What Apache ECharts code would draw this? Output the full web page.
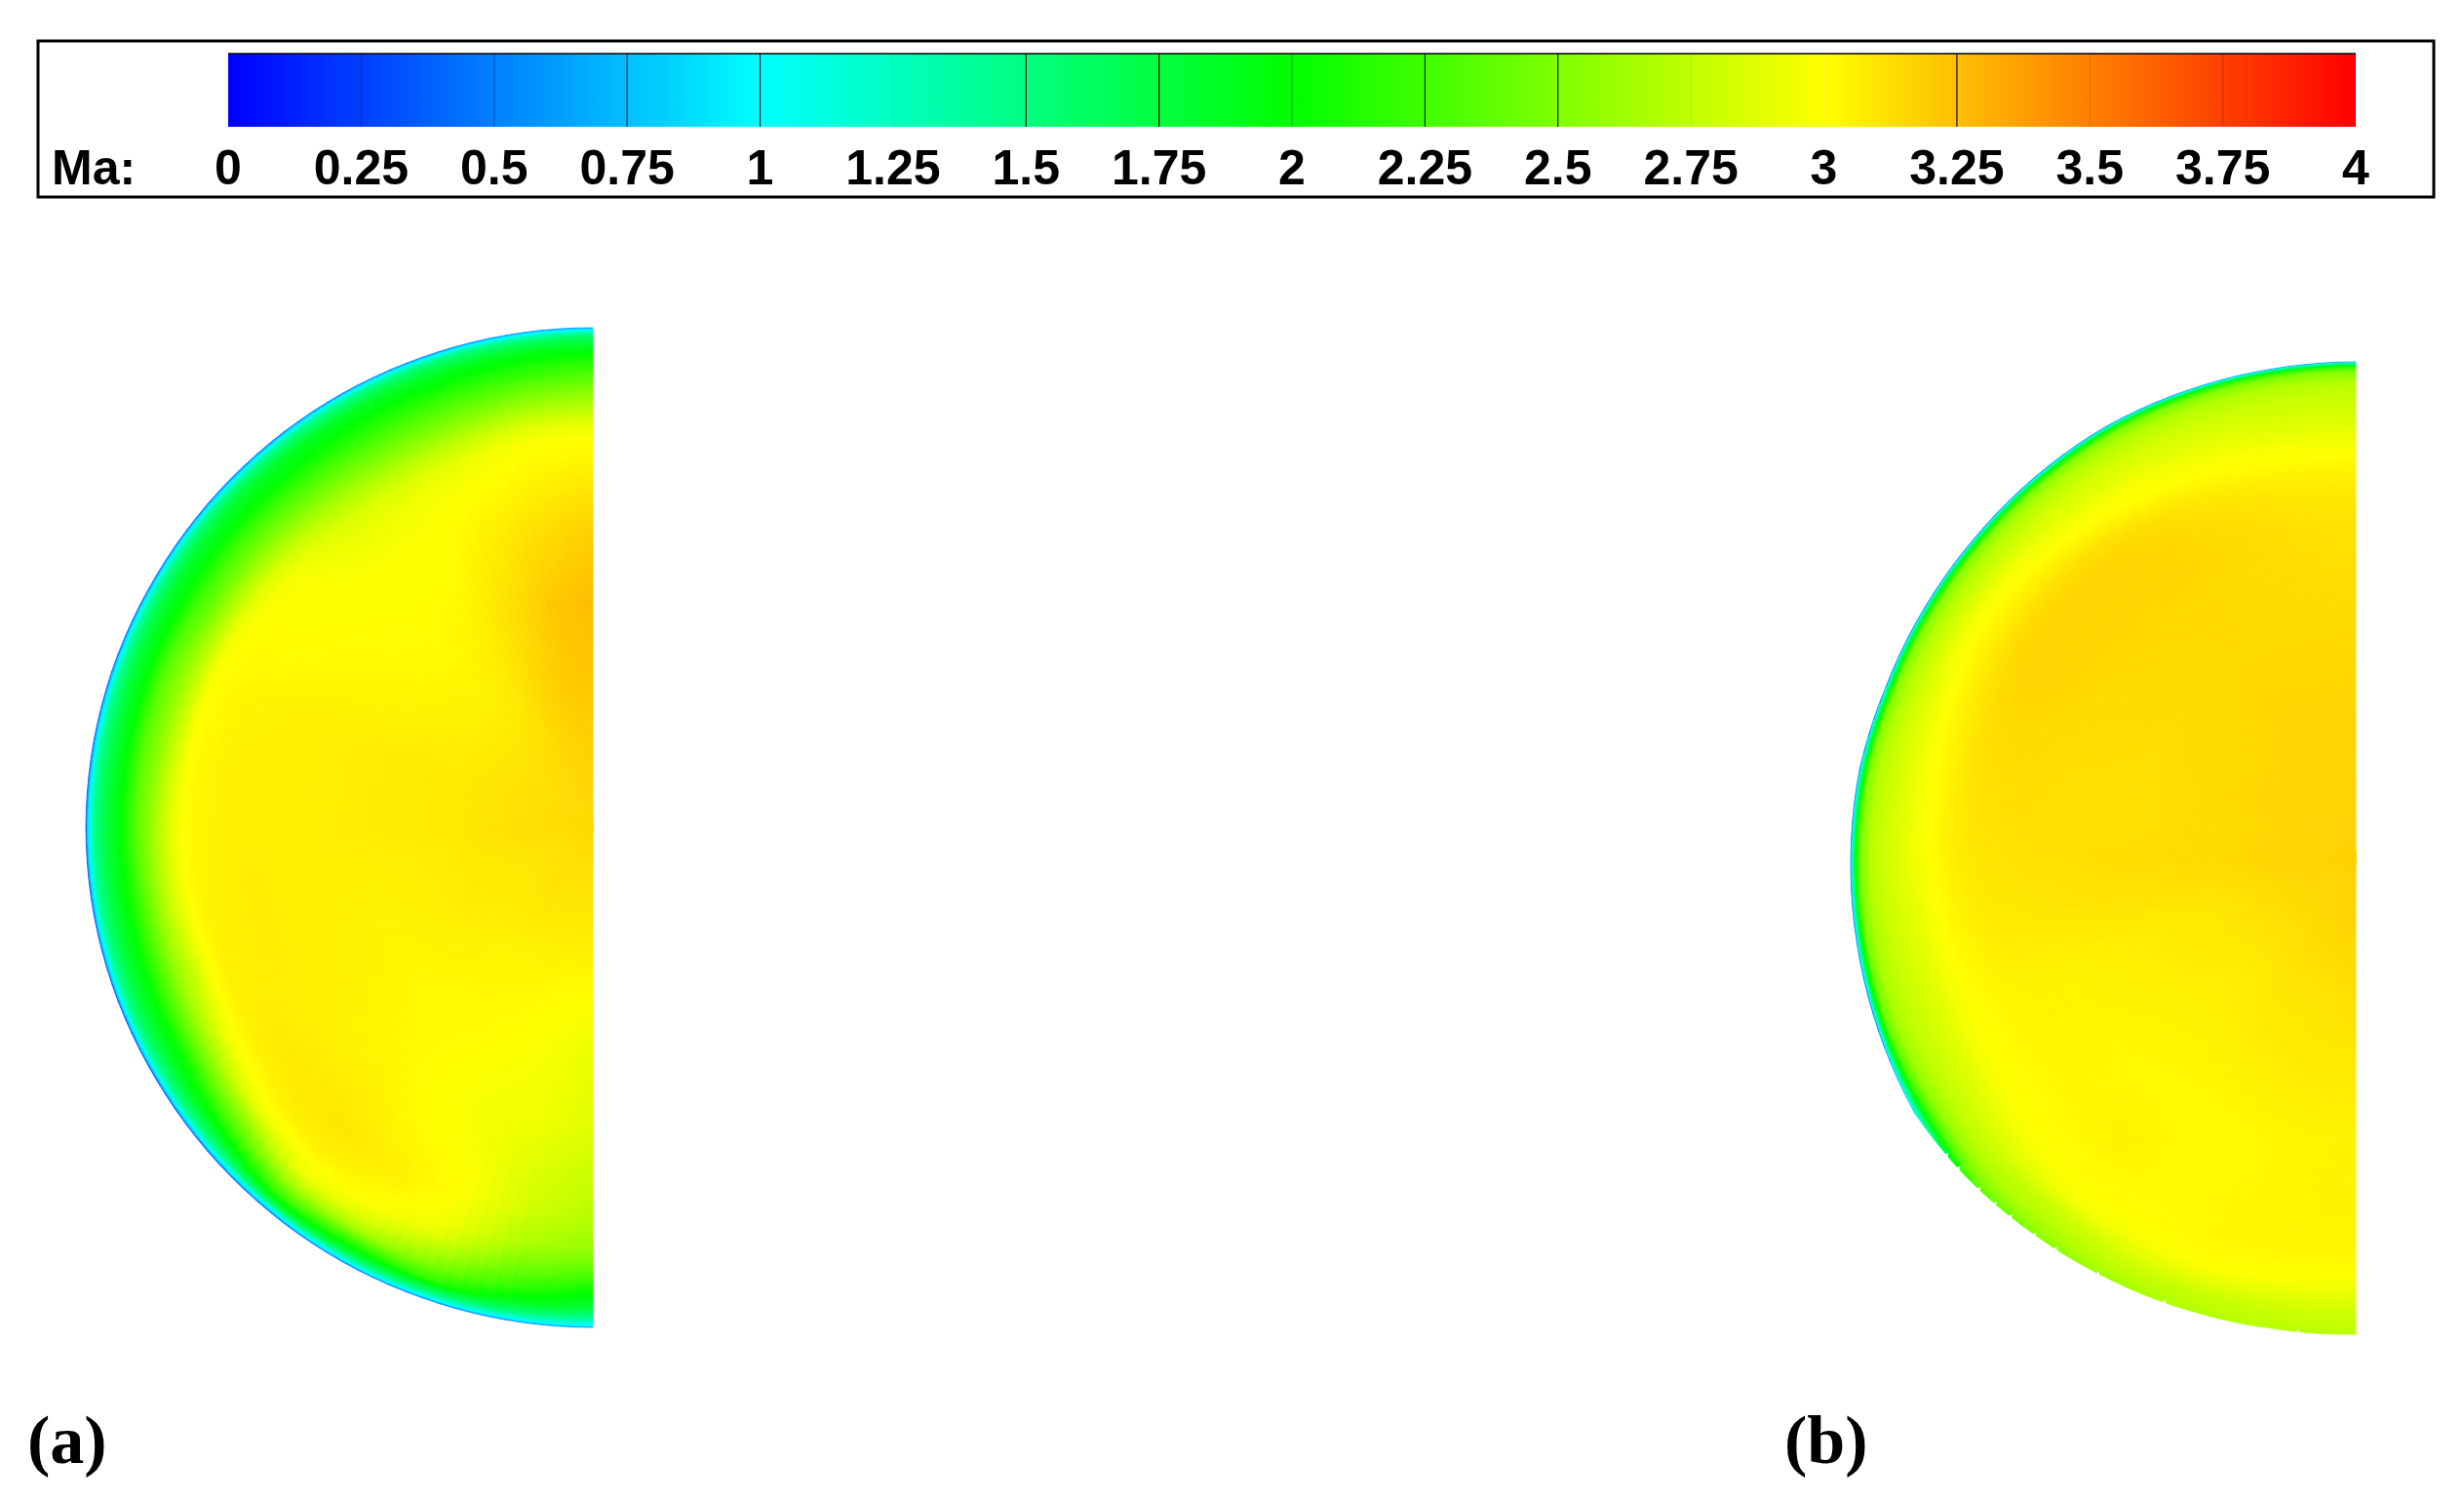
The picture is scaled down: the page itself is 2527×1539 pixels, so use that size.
<!DOCTYPE html>
<html>
<head>
<meta charset="utf-8">
<title>Ma contours</title>
<style>
	html, body { margin: 0; padding: 0; background: #fff; }
	#main { width: 2527px; height: 1539px; }
</style>
<script src="https://cdn.jsdelivr.net/npm/echarts@6/dist/echarts.min.js"></script>
</head>
<body>
<div id="main"></div>
<script>
// colour scale
var maStops = [0, 1, 2, 3, 4];
var maColors = ['#0000ff', '#00ffff', '#00ff00', '#ffff00', '#ff0000'];
var maTicks = [0, 0.25, 0.5, 0.75, 1, 1.25, 1.5, 1.75, 2, 2.25, 2.5, 2.75, 3, 3.25, 3.5, 3.75, 4];
var maTickLineAlpha = [0, 0.3, 0.3, 0.8, 0.9, 0.05, 0.9, 0.9, 0.3, 0.8, 0.9, 0.05, 0.05, 0.9, 0.1, 0.2, 0];

// mesh nodes the Ma values were read at: angle from the top of the section, share of the wall radius
var angles = [0, 10, 20, 30, 40, 50, 60, 70, 80, 90, 100, 110, 120, 130, 140, 150, 160, 170, 180];
var radii = [1, 0.997, 0.99, 0.98, 0.96, 0.93, 0.9, 0.87, 0.84, 0.81, 0.78, 0.74, 0.68, 0.6, 0.45, 0.3, 0.15, 0];

// wall radius per angle
var wallA = [512.5, 512.6, 513, 514, 515, 516, 517, 518.5, 519.5, 520, 519.5, 518.5, 517, 516, 515, 514, 513, 512.6, 512.5];
var wallB = [509, 509, 510, 511.5, 511, 510.5, 511.5, 513, 517, 518, 519, 520.5, 522.5, 515.5, 507, 500, 494, 489.5, 488];
// angles of the small teeth on the lower wall of (b)
var teethB = [126, 128, 131.3, 133.8, 136.1, 139.6, 142.5, 148.2, 156.7, 173.1];

// Ma per angle (rows) and radius (columns)
var fieldA = [
	[0.6, 0.9, 1.35, 1.65, 1.9, 2.15, 2.35, 2.55, 2.72, 2.9, 3, 3.03, 3.1, 3.18, 3.26, 3.22, 3.18, 3.15],
	[0.55, 0.9, 1.3, 1.6, 1.9, 2.1, 2.3, 2.5, 2.7, 2.88, 2.98, 3.02, 3.06, 3.13, 3.22, 3.21, 3.17, 3.15],
	[0.5, 0.85, 1.3, 1.6, 1.85, 2.05, 2.25, 2.42, 2.6, 2.78, 2.9, 2.97, 3.02, 3.07, 3.13, 3.16, 3.16, 3.15],
	[0.5, 0.85, 1.3, 1.55, 1.85, 2.03, 2.2, 2.38, 2.55, 2.72, 2.85, 2.94, 2.98, 3, 3.05, 3.09, 3.14, 3.15],
	[0.45, 0.8, 1.25, 1.55, 1.85, 2, 2.2, 2.4, 2.58, 2.75, 2.86, 2.92, 2.98, 3, 3.02, 3.06, 3.13, 3.15],
	[0.45, 0.8, 1.25, 1.55, 1.82, 2, 2.25, 2.45, 2.65, 2.85, 2.95, 3, 3, 3.01, 3.03, 3.06, 3.12, 3.15],
	[0.4, 0.8, 1.25, 1.5, 1.8, 2, 2.25, 2.45, 2.7, 2.92, 3, 3.01, 3.01, 3.03, 3.05, 3.07, 3.12, 3.15],
	[0.4, 0.8, 1.2, 1.5, 1.78, 2, 2.35, 2.55, 2.75, 2.98, 3.02, 3.04, 3.05, 3.06, 3.07, 3.08, 3.12, 3.15],
	[0.35, 0.8, 1.2, 1.5, 1.75, 2, 2.35, 2.55, 2.8, 3, 3.03, 3.05, 3.06, 3.06, 3.07, 3.08, 3.12, 3.15],
	[0.3, 0.8, 1.2, 1.5, 1.75, 2, 2.35, 2.6, 2.85, 3, 3.03, 3.05, 3.06, 3.06, 3.07, 3.08, 3.12, 3.15],
	[0.3, 0.8, 1.2, 1.5, 1.75, 2, 2.3, 2.6, 2.85, 3, 3.04, 3.06, 3.07, 3.06, 3.06, 3.07, 3.12, 3.15],
	[0.3, 0.8, 1.2, 1.5, 1.78, 2, 2.32, 2.6, 2.78, 2.98, 3.05, 3.06, 3.07, 3.06, 3.05, 3.07, 3.1, 3.15],
	[0.3, 0.75, 1.2, 1.5, 1.8, 2.05, 2.4, 2.68, 2.93, 3.02, 3.06, 3.07, 3.06, 3.06, 3.04, 3.07, 3.09, 3.15],
	[0.3, 0.8, 1.2, 1.55, 1.9, 2.3, 2.6, 2.92, 3.02, 3.06, 3.08, 3.08, 3.06, 3.04, 3.03, 3.06, 3.09, 3.15],
	[0.4, 0.8, 1.3, 1.8, 2.25, 2.65, 2.95, 3, 3.06, 3.08, 3.1, 3.08, 3.06, 3.03, 3.02, 3.05, 3.1, 3.15],
	[0.45, 0.9, 1.3, 1.7, 2.1, 2.65, 2.88, 2.99, 3.02, 3.05, 3.06, 3.04, 3.01, 3, 3.02, 3.04, 3.11, 3.15],
	[0.5, 0.9, 1.3, 1.65, 2.2, 2.5, 2.7, 2.88, 2.95, 2.98, 3, 3, 2.97, 2.95, 3, 3.04, 3.1, 3.15],
	[0.55, 0.9, 1.25, 1.55, 1.9, 2.2, 2.4, 2.55, 2.7, 2.75, 2.82, 2.85, 2.88, 2.94, 2.97, 3.03, 3.1, 3.15],
	[0.6, 0.95, 1.2, 1.45, 1.8, 2, 2.25, 2.45, 2.58, 2.65, 2.7, 2.75, 2.8, 2.88, 2.92, 3.03, 3.1, 3.15]
];
var fieldB = [
	[0.6, 1.4, 2.15, 2.5, 2.7, 2.78, 2.83, 2.88, 2.95, 3, 3.05, 3.08, 3.11, 3.12, 3.15, 3.16, 3.17, 3.18],
	[0.6, 1.4, 2.15, 2.5, 2.7, 2.79, 2.84, 2.9, 2.97, 3.01, 3.05, 3.09, 3.12, 3.13, 3.15, 3.16, 3.17, 3.18],
	[0.6, 1.4, 2.15, 2.5, 2.7, 2.8, 2.87, 2.93, 2.99, 3.03, 3.08, 3.12, 3.14, 3.14, 3.15, 3.16, 3.17, 3.18],
	[0.55, 1.35, 2.1, 2.5, 2.7, 2.82, 2.89, 2.97, 3, 3.07, 3.13, 3.15, 3.16, 3.15, 3.15, 3.16, 3.17, 3.18],
	[0.55, 1.3, 2.05, 2.5, 2.7, 2.83, 2.9, 2.98, 3.05, 3.12, 3.16, 3.17, 3.16, 3.15, 3.14, 3.15, 3.17, 3.18],
	[0.5, 1.3, 2.05, 2.5, 2.7, 2.83, 2.96, 3.02, 3.08, 3.14, 3.16, 3.17, 3.16, 3.15, 3.14, 3.15, 3.17, 3.18],
	[0.5, 1.3, 2.05, 2.5, 2.7, 2.84, 2.97, 3.03, 3.08, 3.13, 3.16, 3.17, 3.16, 3.14, 3.13, 3.15, 3.17, 3.18],
	[0.5, 1.25, 2, 2.5, 2.7, 2.83, 2.92, 3, 3.05, 3.09, 3.13, 3.14, 3.14, 3.13, 3.12, 3.14, 3.16, 3.18],
	[0.5, 1.2, 2, 2.5, 2.72, 2.81, 2.89, 2.97, 3.02, 3.06, 3.1, 3.12, 3.13, 3.12, 3.12, 3.14, 3.16, 3.18],
	[0.5, 1.2, 2, 2.5, 2.72, 2.82, 2.88, 2.95, 3, 3.05, 3.08, 3.1, 3.11, 3.12, 3.13, 3.14, 3.17, 3.18],
	[0.5, 1.15, 1.95, 2.45, 2.68, 2.79, 2.85, 2.9, 2.98, 3.02, 3.05, 3.08, 3.09, 3.1, 3.11, 3.12, 3.16, 3.18],
	[0.5, 1.1, 1.9, 2.4, 2.65, 2.76, 2.82, 2.87, 2.95, 3, 3.02, 3.04, 3.05, 3.05, 3.07, 3.09, 3.15, 3.18],
	[0.9, 1.2, 1.7, 2.15, 2.55, 2.73, 2.81, 2.87, 2.95, 3, 3.01, 3.03, 3.04, 3.04, 3.06, 3.09, 3.14, 3.18],
	[2.3, 2.35, 2.45, 2.55, 2.68, 2.78, 2.87, 2.95, 3, 3.01, 3.02, 3.03, 3.03, 3.03, 3.05, 3.08, 3.14, 3.18],
	[2.55, 2.55, 2.6, 2.65, 2.72, 2.8, 2.95, 3, 3.02, 3.02, 3.04, 3.05, 3.04, 3.02, 3.05, 3.08, 3.14, 3.18],
	[2.65, 2.65, 2.68, 2.72, 2.78, 2.88, 2.96, 3, 3.01, 3.02, 3.02, 3.02, 3.02, 3.02, 3.06, 3.1, 3.15, 3.18],
	[2.7, 2.7, 2.72, 2.75, 2.78, 2.9, 3, 3.02, 3.03, 3.03, 3.03, 3.03, 3.02, 3.03, 3.07, 3.1, 3.15, 3.18],
	[2.72, 2.72, 2.74, 2.76, 2.8, 2.88, 2.97, 3, 3.03, 3.03, 3.04, 3.04, 3.04, 3.04, 3.08, 3.11, 3.16, 3.18],
	[2.72, 2.72, 2.75, 2.77, 2.8, 2.87, 2.95, 3, 3.03, 3.04, 3.04, 3.05, 3.05, 3.05, 3.08, 3.12, 3.16, 3.18]
];

var FONT = '"Liberation Sans", Arial, sans-serif';
var STRIPS = 5; // flood shading of one mesh cell

function hexRgb(hex) {
	return [parseInt(hex.substr(1, 2), 16), parseInt(hex.substr(3, 2), 16), parseInt(hex.substr(5, 2), 16)];
}

function maColor(v) {
	var k = Math.max(0, Math.min(maStops.length - 2, Math.floor(v)));
	var t = (v - maStops[k]) / (maStops[k + 1] - maStops[k]);
	var a = hexRgb(maColors[k]);
	var b = hexRgb(maColors[k + 1]);
	return 'rgb(' + Math.round(a[0] + (b[0] - a[0]) * t) + ',' + Math.round(a[1] + (b[1] - a[1]) * t) + ',' + Math.round(a[2] + (b[2] - a[2]) * t) + ')';
}

// gradient between two Ma values, with a stop on every knee of the colour scale
function maGradient(p0, p1, v0, v1) {
	var stops = [{ offset: 0, color: maColor(v0) }];
	var lo = Math.min(v0, v1);
	var hi = Math.max(v0, v1);
	var list = [];
	maStops.forEach(function(s) {
		if (s > lo && s < hi) {
			list.push((s - v0) / (v1 - v0));
		}
	});
	list.sort(function(a, b) { return a - b; });
	list.forEach(function(t) {
		stops.push({ offset: t, color: maColor(v0 + (v1 - v0) * t) });
	});
	stops.push({ offset: 1, color: maColor(v1) });
	return new echarts.graphic.LinearGradient(p0[0], p0[1], p1[0], p1[1], stops, true);
}

function cellData(field) {
	var data = [];
	for (var i = 0; i < angles.length - 1; i++) {
		for (var j = 0; j < radii.length - 1; j++) {
			data.push([i, j, field[i][j], field[i + 1][j], field[i][j + 1], field[i + 1][j + 1]]);
		}
	}
	return data;
}

function node(api, deg, wallR, s) {
	var a = deg * Math.PI / 180;
	return api.coord([-wallR * s * Math.sin(a), wallR * s * Math.cos(a)]);
}

function meshSeries(grid, wall, field) {
	return {
		type: 'custom',
		xAxisIndex: grid,
		yAxisIndex: grid,
		coordinateSystem: 'cartesian2d',
		silent: true,
		clip: false,
		progressive: 0,
		animation: false,
		encode: { x: 0, y: 1 },
		data: cellData(field),
		renderItem: function(params, api) {
			var i = api.value(0);
			var j = api.value(1);
			var children = [];
			for (var k = 0; k < STRIPS; k++) {
				var t0 = k / STRIPS;
				var t1 = (k + 1) / STRIPS;
				var tm = (t0 + t1) / 2;
				var d0 = angles[i] + (angles[i + 1] - angles[i]) * t0;
				var d1 = angles[i] + (angles[i + 1] - angles[i]) * t1;
				var dm = (d0 + d1) / 2;
				var w0 = wall[i] + (wall[i + 1] - wall[i]) * t0;
				var w1 = wall[i] + (wall[i + 1] - wall[i]) * t1;
				var wm = (w0 + w1) / 2;
				var vOut = api.value(2) + (api.value(3) - api.value(2)) * tm;
				var vIn = api.value(4) + (api.value(5) - api.value(4)) * tm;
				var grad = maGradient(node(api, dm, wm, radii[j]), node(api, dm, wm, radii[j + 1]), vOut, vIn);
				children.push({
					type: 'polygon',
					shape: {
						points: [
							node(api, d0, w0, radii[j]),
							node(api, d1, w1, radii[j]),
							node(api, d1, w1, radii[j + 1]),
							node(api, d0, w0, radii[j + 1])
						]
					},
					style: { fill: grad, stroke: grad, lineWidth: 0.8 }
				});
			}
			return { type: 'group', children: children };
		}
	};
}

// white nicks cut into the wall of (b)
function teethSeries(grid, wall, teeth) {
	return {
		type: 'custom',
		xAxisIndex: grid,
		yAxisIndex: grid,
		silent: true,
		clip: false,
		animation: false,
		encode: { x: 0 },
		data: teeth.map(function(a) { return [a]; }),
		renderItem: function(params, api) {
			var deg = api.value(0);
			var i = Math.min(angles.length - 2, Math.floor(deg / 10));
			var r = wall[i] + (wall[i + 1] - wall[i]) * (deg - angles[i]) / (angles[i + 1] - angles[i]);
			return {
				type: 'polygon',
				shape: {
					points: [
						node(api, deg - 0.25, r + 1.5, 1),
						node(api, deg + 0.25, r + 1.5, 1),
						node(api, deg - 0.1, r - 3, 1)
					]
				},
				style: { fill: '#fff' }
			};
		}
	};
}

var chart = echarts.init(document.getElementById('main'), null, { renderer: 'canvas' });
chart.setOption({
	backgroundColor: '#ffffff',
	animation: false,
	grid: [
		{ left: 234, top: 55, width: 2182, height: 75 },
		{ left: 88, top: 336, width: 520, height: 1025 },
		{ left: 1898, top: 371, width: 518, height: 999 }
	],
	xAxis: [
		{
			gridIndex: 0,
			type: 'value',
			min: 0,
			max: 4,
			interval: 0.25,
			axisLine: { show: false },
			axisTick: { show: false },
			splitLine: { show: false },
			axisLabel: {
				show: true,
				margin: 20,
				fontFamily: FONT,
				fontWeight: 'bold',
				fontSize: 50,
				color: '#000',
				hideOverlap: false,
				showMinLabel: true,
				showMaxLabel: true
			}
		},
		{ gridIndex: 1, type: 'value', min: -520, max: 0, show: false },
		{ gridIndex: 2, type: 'value', min: -518, max: 0, show: false }
	],
	yAxis: [
		{ gridIndex: 0, type: 'value', min: 0, max: 1, show: false },
		{ gridIndex: 1, type: 'value', min: -512.5, max: 512.5, show: false },
		{ gridIndex: 2, type: 'value', min: -490, max: 509, show: false }
	],
	graphic: [
		{
			type: 'rect',
			shape: { x: 39, y: 42, width: 2457, height: 160 },
			style: { fill: 'transparent', stroke: '#000', lineWidth: 3 },
			silent: true
		},
		{
			type: 'text',
			x: 53,
			y: 200,
			style: { text: 'Ma:', font: 'bold 50px ' + FONT, fill: '#000', verticalAlign: 'bottom' }
		},
		{
			type: 'text',
			x: 28,
			y: 1447,
			style: { text: '(a)', font: 'bold 70px "Liberation Serif", serif', fill: '#000', verticalAlign: 'top' }
		},
		{
			type: 'text',
			x: 1830,
			y: 1447,
			style: { text: '(b)', font: 'bold 70px "Liberation Serif", serif', fill: '#000', verticalAlign: 'top' }
		}
	],
	series: [
		{
			type: 'custom',
			xAxisIndex: 0,
			yAxisIndex: 0,
			silent: true,
			animation: false,
			data: maStops.slice(0, -1).map(function(s, i) { return [s, maStops[i + 1]]; }),
			encode: { x: [0, 1] },
			renderItem: function(params, api) {
				var p0 = api.coord([api.value(0), 1]);
				var p1 = api.coord([api.value(1), 0]);
				return {
					type: 'rect',
					shape: { x: p0[0], y: p0[1], width: p1[0] - p0[0], height: p1[1] - p0[1] },
					style: {
						fill: maGradient([p0[0], 0], [p1[0], 0], api.value(0), api.value(1) - 0.0001)
					}
				};
			}
		},
		{
			type: 'custom',
			xAxisIndex: 0,
			yAxisIndex: 0,
			silent: true,
			animation: false,
			data: maTicks.map(function(t, i) { return [t, maTickLineAlpha[i]]; }),
			encode: { x: 0 },
			renderItem: function(params, api) {
				var p0 = api.coord([api.value(0), 1]);
				var p1 = api.coord([api.value(0), 0]);
				return {
					type: 'line',
					shape: { x1: p0[0], y1: p0[1], x2: p1[0], y2: p1[1] },
					style: { stroke: 'rgba(0,0,0,' + api.value(1) + ')', lineWidth: 1.2 }
				};
			},
			markLine: {
				silent: true,
				symbol: 'none',
				label: { show: false },
				lineStyle: { color: '#000', width: 1.5, type: 'solid' },
				data: [[{ xAxis: 0, yAxis: 1 }, { xAxis: 4, yAxis: 1 }]],
				animation: false
			}
		},
		meshSeries(1, wallA, fieldA),
		meshSeries(2, wallB, fieldB),
		teethSeries(2, wallB, teethB)
	]
});
</script>
</body>
</html>
